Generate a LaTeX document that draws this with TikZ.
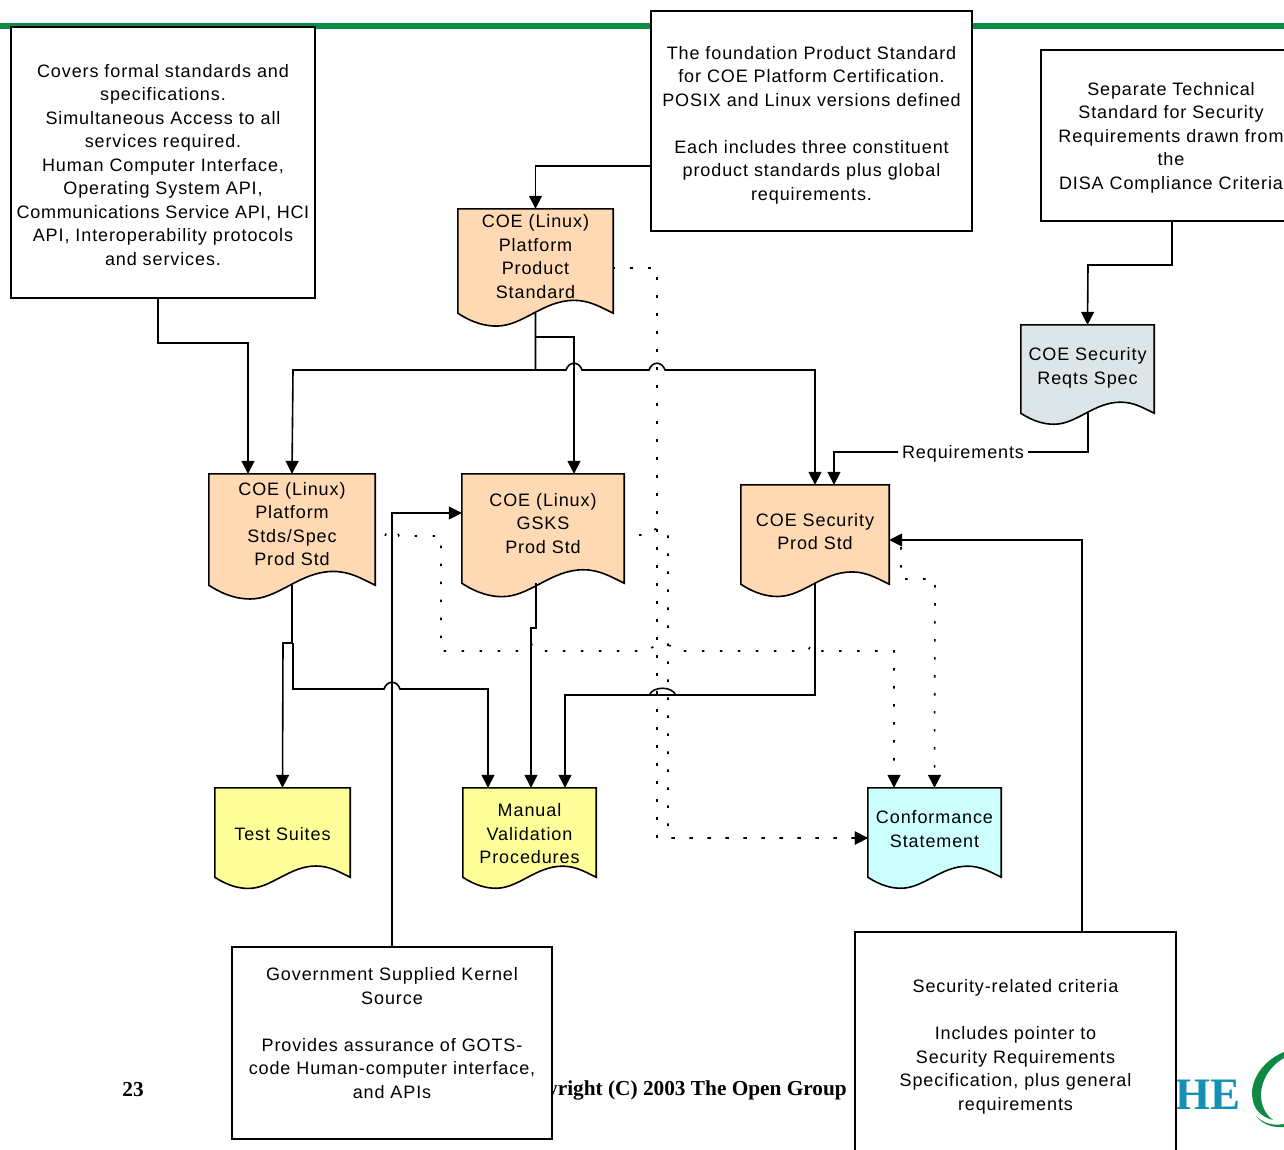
\documentclass[tikz,border=0pt]{standalone}
\usepackage{fontspec}
\setmainfont[LetterSpace=5]{Liberation Sans}
\newfontfamily\footfont{Liberation Serif}
\usetikzlibrary{arrows.meta,backgrounds,positioning,calc}
\definecolor{bargreen}{HTML}{0F8A45}
\definecolor{logoteal}{HTML}{1490B5}
\definecolor{peach}{HTML}{FFD8B4}
\definecolor{greyblue}{HTML}{DCE6E8}
\definecolor{paleyellow}{HTML}{FFFF99}
\definecolor{palecyan}{HTML}{CCFFFF}
\tikzset{
block/.style = {draw, fill=white, rectangle, line width=1.6pt, align=center, inner sep=0pt},
docblock/.style = {rectangle, align=center, inner sep=0pt},
tmp/.style = {coordinate},
link/.style = {line width=1.6pt, -{Triangle[length=13pt,width=13pt]}},
dotline/.style = {line width=1.6pt, dash pattern=on 2.5pt off 15.5pt, -{Triangle[length=13pt,width=13pt]}}
}
% wavy lower edge of a document box: name, colour, width
\newcommand{\docwave}[3]{
\begin{pgfonlayer}{background}
\draw [line width=1.6pt, fill=#2] (#1.north west) -- (#1.south west)
  .. controls ($(#1.south west)+(.1*#3,.065*#3)$) and ($(#1.south west)+(.18*#3,.083*#3)$) .. ($(#1.south west)+(.25*#3,.083*#3)$)
  .. controls ($(#1.south west)+(.42*#3,.083*#3)$) and ($(#1.south west)+(.55*#3,-.083*#3)$) .. ($(#1.south west)+(.75*#3,-.083*#3)$)
  .. controls ($(#1.south west)+(.85*#3,-.083*#3)$) and ($(#1.south west)+(.92*#3,-.04*#3)$) .. (#1.south east)
  -- (#1.north east) -- cycle;
\end{pgfonlayer}
}
% small hop of a horizontal line over a vertical one: x, y, half width
\newcommand{\hop}[3]{-- ({#1-#3},#2) .. controls ({#1-#3+3},{#2-9}) and ({#1+#3-3},{#2-9}) .. ({#1+#3},#2)}
\begin{document}
\begin{tikzpicture}[x=1pt,y=-1pt,font=\fontsize{18}{23.5}\selectfont]
\useasboundingbox (0,0) rectangle (1284,1149);

% page furniture
\fill [bargreen] (0,23) rectangle (1284,29);
\node [font=\footfont\bfseries\fontsize{21.3}{24}\selectfont, anchor=east, inner sep=0pt] (copyright) at (847,1090) {Copyright (C) 2003 The Open Group};
\node [font=\footfont\bfseries\fontsize{21.3}{24}\selectfont] (pageno) at (133,1090) {23};
\node [font=\footfont\bfseries\fontsize{45}{45}\selectfont, text=logoteal, anchor=east, inner sep=0pt] (logo) at (1241,1095) {THE};
\fill [bargreen] (1284,1052) .. controls (1264,1060) and (1252,1078) .. (1252,1093)
  .. controls (1252,1106) and (1258,1116) .. (1273,1120)
  .. controls (1265,1114) and (1261,1105) .. (1261,1095)
  .. controls (1261,1080) and (1270,1066) .. (1284,1058) -- cycle;
\fill [bargreen] (1256,1116) .. controls (1262,1124) and (1272,1128) .. (1284,1127) -- (1284,1124)
  .. controls (1272,1126) and (1263,1123) .. (1256,1116) -- cycle;

% text boxes
\node [block, minimum width=304, minimum height=271, text depth=0pt] (covers) at (163,162.5) {\rule{0pt}{17pt}Covers formal standards and\\specifications.\\Simultaneous Access to all\\services required.\\Human Computer Interface,\\Operating System API,\\{\addfontfeature{LetterSpace=3.8}Communications Service API, HCI}\\API, Interoperability protocols\\and services.};
\node [block, minimum width=321, minimum height=220, text depth=0pt] (foundation) at (811.5,121) {\rule{0pt}{17pt}The foundation Product Standard\\for COE Platform Certification.\\POSIX and Linux versions defined\\~\\Each includes three constituent\\product standards plus global\\requirements.};
\node [block, minimum width=260, minimum height=171, text depth=0pt] (separate) at (1171,135.5) {Separate Technical\\Standard for Security\\Requirements drawn from\\the\\DISA Compliance Criteria};
\node [block, minimum width=320, minimum height=192, text depth=20pt] (kernel) at (392,1043) {Government Supplied Kernel\\Source\\~\\Provides assurance of GOTS-\\code Human-computer interface,\\and APIs};
\node [block, minimum width=321, minimum height=228, text depth=2pt] (criteria) at (1015.5,1046) {Security-related criteria\\~\\Includes pointer to\\Security Requirements\\Specification, plus general\\requirements};

% document boxes
\node [docblock, minimum width=155, minimum height=104, text depth=9pt] (product) at (535.5,261) {COE (Linux)\\Platform\\Product\\Standard};
\node [docblock, minimum width=166, minimum height=111, text depth=11pt] (platform) at (292,529.5) {COE (Linux)\\Platform\\Stds/Spec\\Prod Std};
\node [docblock, minimum width=162, minimum height=109, text depth=11pt] (gsks) at (543,528.5) {COE (Linux)\\GSKS\\Prod Std};
\node [docblock, minimum width=148, minimum height=99, text depth=6pt] (security) at (815,534.5) {COE Security\\Prod Std};
\node [docblock, minimum width=133, minimum height=88, text depth=6pt] (secspec) at (1087.5,369) {COE Security\\Reqts Spec};
\node [docblock, minimum width=135, minimum height=89, text depth=0pt] (tests) at (282.5,832.5) {\rule{0pt}{15pt}Test Suites};
\node [docblock, minimum width=133, minimum height=89, text depth=0pt] (manual) at (529.5,832.5) {\rule{0pt}{15pt}Manual\\Validation\\Procedures};
\node [docblock, minimum width=133, minimum height=89, text depth=7pt] (conform) at (934.5,832.5) {Conformance\\Statement};
\docwave{product}{peach}{155}
\docwave{platform}{peach}{166}
\docwave{gsks}{peach}{162}
\docwave{security}{peach}{148}
\docwave{secspec}{greyblue}{133}
\docwave{tests}{paleyellow}{135}
\docwave{manual}{paleyellow}{133}
\docwave{conform}{palecyan}{133}

% connectors
\draw [link] ([xshift=-5pt]covers.south) |- ++(90,44) -- ([xshift=-44pt]platform.north);
\draw [link] (foundation.west |- 0,166) -| (product.north);
\draw [link] ([xshift=1pt]separate.south) |- (1088,265) -- (secspec.north);
\draw [link] (criteria.north -| 1082,0) |- (security.east |- 0,540);
\draw [link] (kernel.north) |- (gsks.west |- 0,513);

\draw [link] (product.south) |- (535,370) -- (293,370) -- (platform.north);
\draw [link] (535,370) \hop{574}{370}{8} \hop{657}{370}{8} -- (815,370) -- (security.north);
\draw [link] (535,337) -- (574,337) -- ([xshift=31pt]gsks.north);
\draw [link] ([xshift=.5pt]secspec.south) |- node [pos=.746, fill=white, inner xsep=4pt, inner ysep=2pt, text depth=0pt] (req) {Requirements} (834,452) -- ([xshift=19pt]security.north);

\draw [link] (platform.south) |- (283,643) -- (tests.north);
\draw [link] (293,643) |- (293,689) \hop{392}{689}{8} -- (488,689) -- ([xshift=-41.5pt]manual.north);
\draw [link] ([xshift=-7pt]gsks.south) |- (531,628) -- ([xshift=1.5pt]manual.north);
\draw [link] (security.south) |- (815,695) \hop{662.5}{695}{13} -- (565,695) -- ([xshift=35.5pt]manual.north);

\draw [dotline, dash phase=1pt] (product.east |- 0,268) -| (657,838) -- (conform.west |- 0,838);
\draw [dotline, dash phase=3pt] (gsks.east |- 0,535) \hop{657}{535}{6} -| (668,838) -- (conform.west |- 0,838);
\draw [dotline, dash phase=8pt] (platform.east |- 0,536) \hop{392}{536}{7} -| (441,651) \hop{531}{651}{7} \hop{662.5}{651}{13} \hop{815}{651}{7} -| ([xshift=-40.5pt]conform.north);
\draw [dotline, dash phase=6pt] (security.east |- 0,547) -- (901,547) |- (935,579) -- (conform.north);
\end{tikzpicture}
\end{document}
